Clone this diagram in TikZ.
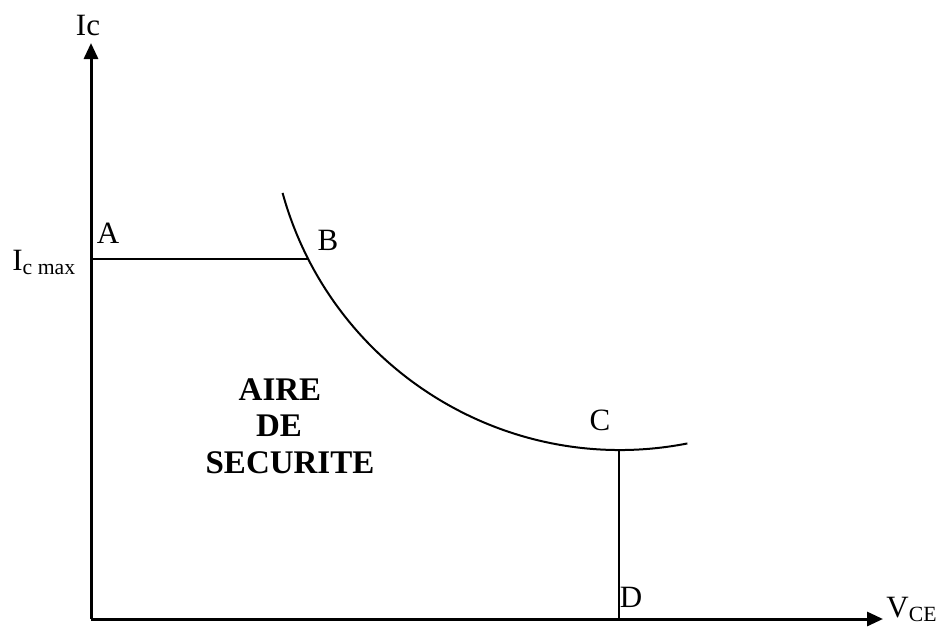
\documentclass[tikz,border=0pt]{standalone}
\usepackage{fontspec}
\setmainfont{Liberation Serif}
\usetikzlibrary{arrows.meta, calc}

\begin{document}
\begin{tikzpicture}[
    x=0.5pt, y=-0.5pt,
    axis/.style={line width=1.5pt, -{Triangle[length=8pt, width=7pt]}},
    curve/.style={line width=1pt},
    lbl/.style={font=\fontsize{15.5}{18}\selectfont, inner sep=0pt},
    zone/.style={font=\fontsize{16.5}{19}\selectfont\bfseries, inner sep=0pt},
]
    \useasboundingbox (0,0) rectangle (942,632);

    % axes
    \coordinate (O) at (91,619);
    \coordinate (ytip) at (91,43);
    \coordinate (xtip) at (883,619);
    \draw[axis] (O) -- (ytip);
    \draw[axis] (O) -- (xtip);

    % limit curve
    \coordinate (ctr) at (620,100);
    \coordinate (top) at ($(ctr)+(164.6:350)$);
    \draw[curve] (top) arc[start angle=164.6, end angle=78.9, radius=350];
    \coordinate (A) at (91,259);
    \coordinate (B) at (308,259);
    \coordinate (C) at (619,450);
    \coordinate (D) at (619,619);
    \draw[curve] (A) -- (B);
    \draw[curve] (C) -- (D);

    % labels
    \node[lbl] (ic)    at (88,25)  {Ic};
    \node[lbl, anchor=base west] (icmax) at (12,270) {I\textsubscript{c max}};
    \node[lbl] (la) at (108,233) {A};
    \node[lbl] (lb) at (328,240) {B};
    \node[lbl] (lc) at (600,420) {C};
    \node[lbl] (ld) at (631,597) {D};
    \node[lbl, anchor=base west] (vce) at (886,617) {V\textsubscript{CE}};

    \node[zone] (aire) at (280,390) {AIRE};
    \node[zone] (de)   at (279,426) {DE};
    \node[zone] (secu) at (290,463) {SECURITE};
\end{tikzpicture}
\end{document}
